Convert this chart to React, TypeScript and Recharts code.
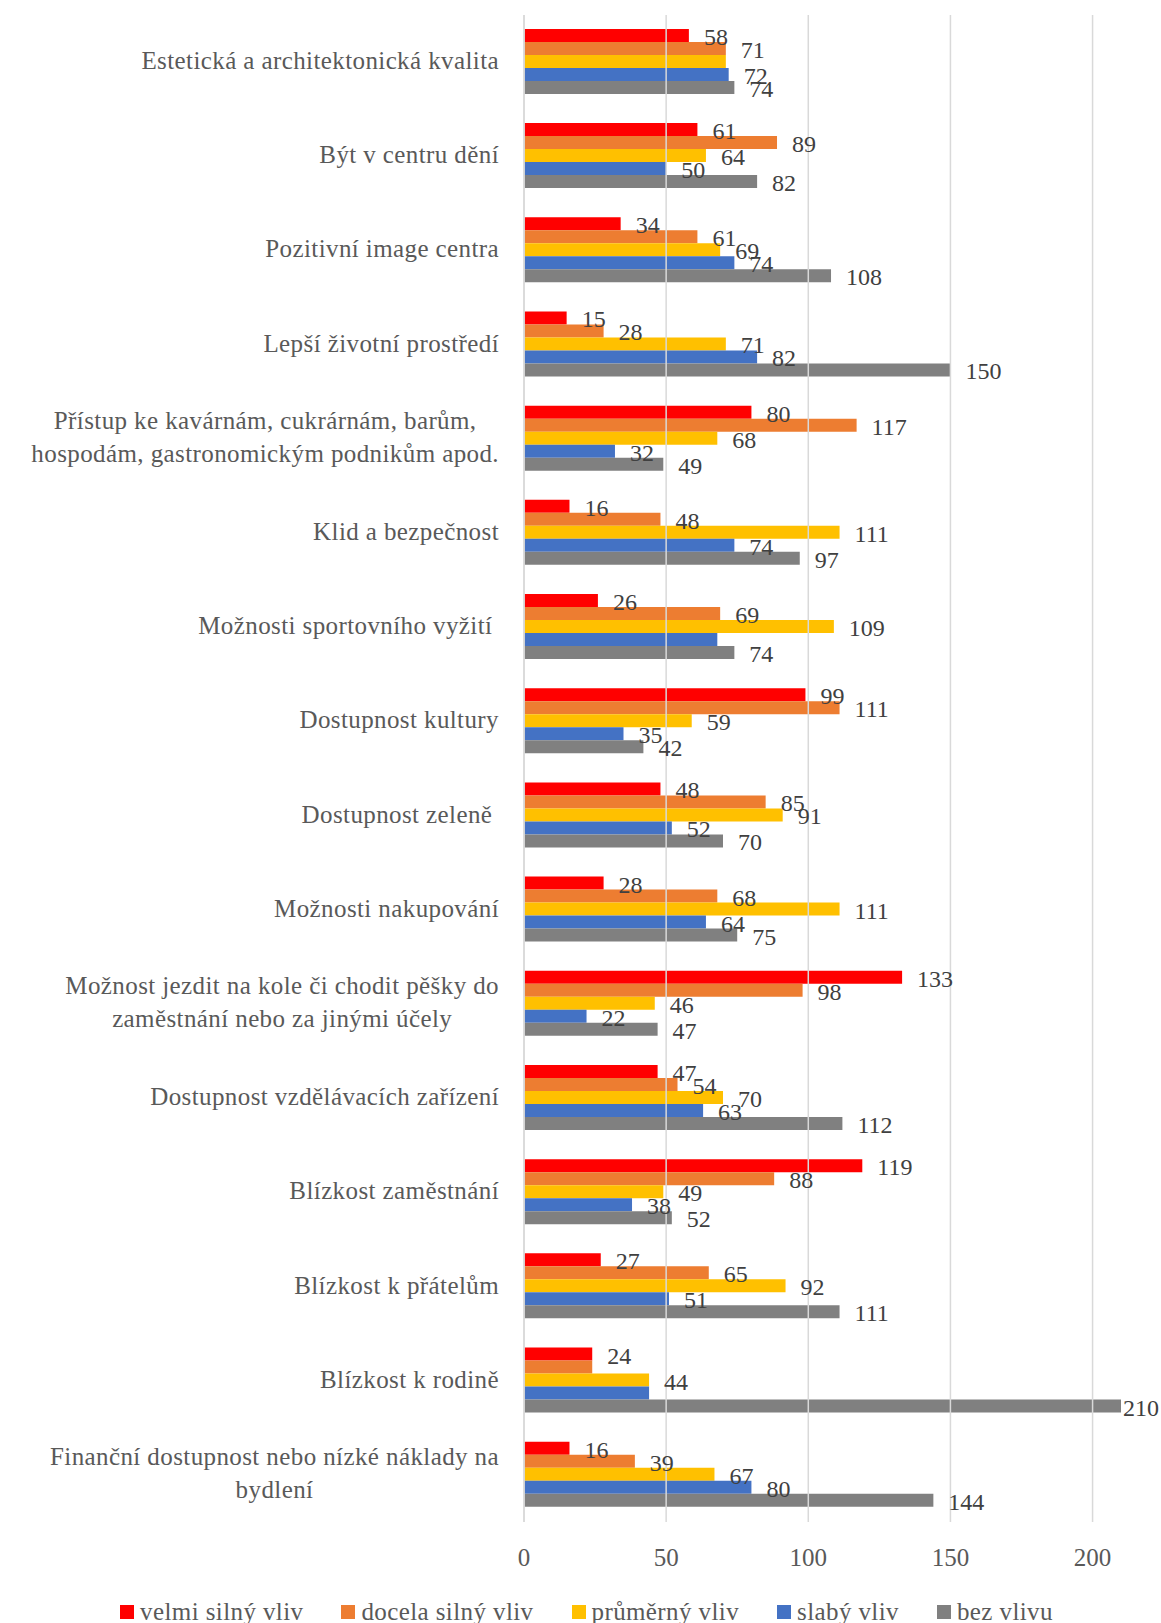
import React from 'react';
import { BarChart, Bar, XAxis, YAxis, ReferenceLine, Legend, LabelList } from 'recharts';

document.body.style.margin = '0';

const categories = [
  'Estetická a architektonická kvalita',
  'Být v centru dění',
  'Pozitivní image centra',
  'Lepší životní prostředí',
  'Přístup ke kavárnám, cukrárnám, barům,\nhospodám, gastronomickým podnikům apod.',
  'Klid a bezpečnost',
  'Možnosti sportovního vyžití ',
  'Dostupnost kultury',
  'Dostupnost zeleně ',
  'Možnosti nakupování',
  'Možnost jezdit na kole či chodit pěšky do\nzaměstnání nebo za jinými účely',
  'Dostupnost vzdělávacích zařízení',
  'Blízkost zaměstnání',
  'Blízkost k přátelům',
  'Blízkost k rodině',
  'Finanční dostupnost nebo nízké náklady na\nbydlení',
];

const velmiSilny = [58, 61, 34, 15, 80, 16, 26, 99, 48, 28, 133, 47, 119, 27, 24, 16];
const docelaSilny = [71, 89, 61, 28, 117, 48, 69, 111, 85, 68, 98, 54, 88, 65, 24, 39];
const prumerny = [71, 64, 69, 71, 68, 111, 109, 59, 91, 111, 46, 70, 49, 92, 44, 67];
const slaby = [72, 50, 74, 82, 32, 74, 68, 35, 52, 64, 22, 63, 38, 51, 44, 80];
const bezVlivu = [74, 82, 108, 150, 49, 97, 74, 42, 70, 75, 47, 112, 52, 111, 210, 144];

const seriesKeys = ['velmi', 'docela', 'prumerny', 'slaby', 'bez'];
const seriesNames = ['velmi silný vliv', 'docela silný vliv', 'průměrný vliv', 'slabý vliv', 'bez vlivu'];
const seriesColors = ['#FF0000', '#ED7D31', '#FFC000', '#4472C4', '#808080'];
const xTicks = [0, 50, 100, 150, 200];

// labels missing in the original (category index per series)
const hiddenLabels: Record<string, number[]> = { prumerny: [0], slaby: [6, 14], docela: [14] };

const data = categories.map((name, i) => ({
  name,
  velmi: velmiSilny[i],
  docela: docelaSilny[i],
  prumerny: prumerny[i],
  slaby: slaby[i],
  bez: bezVlivu[i],
}));

const FONT = '"Liberation Serif", "Times New Roman", serif';
const W = 1161;
const H = 1623;
const CAT_SIZE = 25;
const SPACING = 0.4;
const LABEL_SIZE = 24;

let ctx: CanvasRenderingContext2D | null = null;
function textWidth(s: string, size: number, spacing = 0) {
  if (!ctx) ctx = document.createElement('canvas').getContext('2d');
  if (!ctx) return s.length * (size * 0.45 + spacing);
  ctx.font = `${size}px ${FONT}`;
  return ctx.measureText(s).width + s.length * spacing;
}

function CategoryTick({ x, y, payload }: any) {
  const lines = String(payload.value).split('\n');
  const common = {
    fill: '#595959',
    fontSize: CAT_SIZE,
    fontFamily: FONT,
    letterSpacing: SPACING,
    style: { whiteSpace: 'pre' as const },
  };
  if (lines.length === 1) {
    return <text x={x} y={y + 7} textAnchor="end" xmlSpace="preserve" {...common}>{lines[0]}</text>;
  }
  const w = Math.max(...lines.map(l => textWidth(l, CAT_SIZE, SPACING)));
  const cx = x - w / 2;
  return (
    <g>
      {lines.map((l, i) => (
        <text key={i} x={cx} y={y - 9.5 + i * 32.7} textAnchor="middle" xmlSpace="preserve" {...common}>{l}</text>
      ))}
    </g>
  );
}

const makeLabel = (key: string) => (props: any) => {
  const { x, y, width, height, value, index } = props;
  if (hiddenLabels[key]?.includes(index)) return null;
  const end = Number(x) + Number(width);
  const w = textWidth(String(value), LABEL_SIZE);
  let tx = end + 15;
  if (tx + w > W) tx = end + 2;
  return (
    <text x={tx} y={Number(y) + Number(height) / 2 + 9.5} fill="#404040" fontSize={LABEL_SIZE} fontFamily={FONT}>
      {value}
    </text>
  );
};

const renderLegend = () => (
  <div
    style={{
      display: 'flex',
      justifyContent: 'center',
      alignItems: 'center',
      height: 30,
      paddingLeft: 12,
      fontFamily: FONT,
      fontSize: CAT_SIZE,
      letterSpacing: SPACING,
      color: '#595959',
      whiteSpace: 'nowrap',
    }}
  >
    {seriesNames.map((n, i) => (
      <div key={n} style={{ display: 'flex', alignItems: 'center', marginLeft: i ? 38 : 0 }}>
        <span style={{ width: 14, height: 14, background: seriesColors[i], marginRight: 6, display: 'inline-block' }} />
        {n}
      </div>
    ))}
  </div>
);

export default function App() {
  return (
    <div style={{ width: W, height: H, background: '#fff', overflow: 'hidden' }}>
      <BarChart
        width={W}
        height={H}
        data={data}
        layout="vertical"
        margin={{ top: 15, right: 40, left: 0, bottom: 11 }}
        barCategoryGap="14.75%"
        barGap={0}
      >
        <XAxis
          type="number"
          domain={[0, 210]}
          ticks={xTicks}
          axisLine={false}
          tickLine={false}
          tickSize={0}
          tickMargin={26}
          height={60}
          tick={{ fill: '#595959', fontSize: CAT_SIZE, fontFamily: FONT }}
        />
        <YAxis
          type="category"
          dataKey="name"
          width={524}
          interval={0}
          tickLine={false}
          tickSize={0}
          tickMargin={25}
          axisLine={{ stroke: '#D9D9D9', strokeWidth: 1.5 }}
          tick={<CategoryTick />}
        />
        {xTicks.map(t => (
          <ReferenceLine key={t} x={t} stroke="#D9D9D9" strokeWidth={1.5} />
        ))}
        <Legend
          verticalAlign="bottom"
          height={30}
          content={renderLegend}
          wrapperStyle={{ top: 1597, bottom: 'auto', left: 0, width: W, height: 30 }}
        />
        {seriesKeys.map((k, i) => (
          <Bar key={k} dataKey={k} name={seriesNames[i]} fill={seriesColors[i]} isAnimationActive={false}>
            <LabelList dataKey={k} content={makeLabel(k)} />
          </Bar>
        ))}
      </BarChart>
    </div>
  );
}
